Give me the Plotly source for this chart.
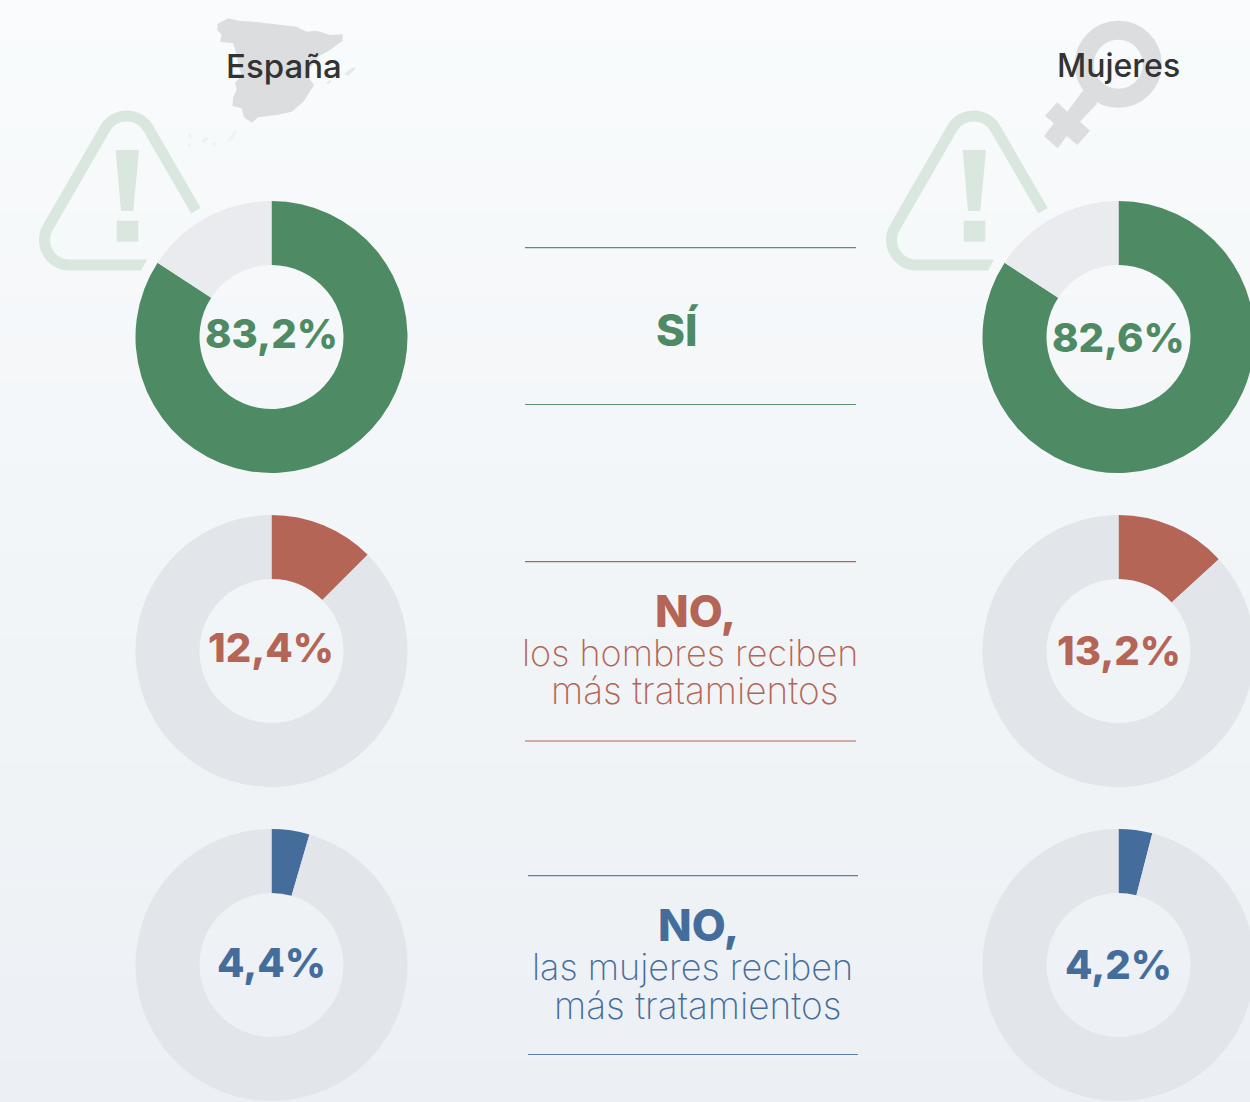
import plotly.graph_objects as go

W, H = 1256, 1102

# ---- data ----
column_titles = ["España", "Mujeres"]
row_colors = ["#4e8a63", "#b46556", "#456d9c"]
rest_colors = ["#e9ebef", "#e2e5ea", "#e2e5ea"]
espana_labels = ["83,2%", "12,4%", "4,4%"]
mujeres_labels = ["82,6%", "13,2%", "4,2%"]
espana_sectors = [84.2, 12.5, 4.5]
mujeres_sectors = [84.2, 13.2, 4.0]

FONT = "Inter, 'Open Sans', sans-serif"
CX = [271.5, 1118.5]
CY = [337, 651, 965]
R = 136


def X(p):
    return round(p / W, 5)


def Y(p):
    return round(1 - p / H, 5)


def path(cmds):
    out = []
    for c in cmds:
        if len(c) == 1:
            out.append(c[0])
        else:
            pts = " ".join(f"{X(c[i])},{Y(c[i + 1])}" for i in range(1, len(c), 2))
            out.append(f"{c[0]}{pts}")
    return " ".join(out)


shapes = []
# background gradient
bands = 26
top = (249, 251, 252)
bot = (236, 240, 244)
for i in range(bands):
    t = i / (bands - 1)
    col = "rgb(" + ",".join(str(round(a + (b - a) * t)) for a, b in zip(top, bot)) + ")"
    shapes.append(dict(type="rect", xref="paper", yref="paper", x0=0, x1=1,
                       y0=Y(H * (i + 1) / bands), y1=Y(H * i / bands),
                       fillcolor=col, line_width=0, layer="below"))


def zx(v, off):
    return off + v / 3


# Spain map (outline in zoom coordinates)
spain = [(592,72),(625,55),(655,62),(700,65),(760,72),(830,80),(860,95),(890,92),(930,105),(968,103),
         (968,122),(930,150),(895,170),(882,190),(870,205),(860,225),(882,255),(860,290),(850,305),
         (815,335),(770,345),(715,352),(695,368),(672,352),(665,325),(637,318),(640,290),(650,270),
         (645,250),(665,225),(655,195),(650,165),(640,130),(600,125),(605,105),(592,90)]
GREY = "#dcddDF"
cmds = [("M" if i == 0 else "L", zx(p[0], 20), p[1] / 3) for i, p in enumerate(spain)] + [("Z",)]
shapes.append(dict(type="path", xref="paper", yref="paper", path=path(cmds), fillcolor=GREY, line_width=0, layer="below"))
for blob in [[(972,222),(995,205),(1008,202),(1000,212),(985,228)],
             [(918,250),(930,240),(935,246),(925,252)]]:
    cmds = [("M" if i == 0 else "L", zx(p[0], 20), p[1] / 3) for i, p in enumerate(blob)] + [("Z",)]
    shapes.append(dict(type="path", xref="paper", yref="paper", path=path(cmds), fillcolor="#e6e7ea", line_width=0, layer="below"))
for blob in [[(618,428),(640,395),(652,388),(640,418)], [(576,430),(585,425),(590,435),(580,440)],
             [(545,420),(560,410),(565,418),(552,430)], [(505,402),(512,400),(515,412),(507,415)],
             [(500,435),(510,430),(512,440)]]:
    cmds = [("M" if i == 0 else "L", zx(p[0], 20), p[1] / 3) for i, p in enumerate(blob)] + [("Z",)]
    shapes.append(dict(type="path", xref="paper", yref="paper", path=path(cmds), fillcolor="#f0f1f4", line_width=0, layer="below"))

# Female symbol
fx, fy = 1118.3, 64.3
shapes.append(dict(type="circle", xref="paper", yref="paper", x0=X(fx - 34), x1=X(fx + 34),
                   y0=Y(fy + 34), y1=Y(fy - 34), fillcolor="rgba(0,0,0,0)",
                   line=dict(color=GREY, width=19), layer="below"))
stem = [(610,270),(652,310),(600,365),(630,392),(592,435),(560,408),(533,445),(492,408),(522,370),(495,347),(532,307),(562,335)]
cmds = [("M" if i == 0 else "L", zx(p[0], 880), p[1] / 3) for i, p in enumerate(stem)] + [("Z",)]
shapes.append(dict(type="path", xref="paper", yref="paper", path=path(cmds), fillcolor=GREY, line_width=0, layer="below"))

# Warning triangles (rounded corners as circular-like cubic curves)
TRI = "#d9e7de"
for dx in (0, 847):
    tri = [("M", 196 + dx, 210.7), ("L", 148.35 + dx, 128.5),
           ("C", 138.75 + dx, 111.9, 114.65 + dx, 111.9, 105.05 + dx, 128.5),
           ("L", 47.85 + dx, 227.5),
           ("C", 38.25 + dx, 244.1, 50.3 + dx, 265, 69.5 + dx, 265),
           ("L", 140 + dx, 265)]
    shapes.append(dict(type="path", xref="paper", yref="paper", path=path(tri), fillcolor="rgba(0,0,0,0)",
                       line=dict(color=TRI, width=11), layer="below"))
    tip = [("M", 139 + dx, 259.6), ("L", 147 + dx, 259.6), ("L", 141 + dx, 270.4), ("L", 139 + dx, 270.4), ("Z",)]
    shapes.append(dict(type="path", xref="paper", yref="paper", path=path(tip), fillcolor=TRI, line_width=0, layer="below"))
    ex = [("M", 115.7 + dx, 150), ("L", 139 + dx, 150), ("L", 133.3 + dx, 211), ("L", 121 + dx, 211), ("Z",)]
    shapes.append(dict(type="path", xref="paper", yref="paper", path=path(ex), fillcolor=TRI, line_width=0, layer="below"))
    shapes.append(dict(type="rect", xref="paper", yref="paper", x0=X(116.7 + dx), x1=X(138.3 + dx),
                       y0=Y(241.7), y1=Y(220.7), fillcolor=TRI, line_width=0, layer="below"))

# Rules around the central captions
for color, x0, x1, ys in [("#5c9270", 525, 856, (247.7, 404.5)),
                          ("#b46556", 525, 856, (561.7, 741)),
                          ("#5b81ab", 528, 858, (875.7, 1054.5))]:
    for y in ys:
        shapes.append(dict(type="line", xref="paper", yref="paper", x0=X(x0), x1=X(x1), y0=Y(y), y1=Y(y),
                           line=dict(color=color, width=1.2), layer="below"))

# Donuts
traces = []
for c, (sectors, cx) in enumerate(zip((espana_sectors, mujeres_sectors), CX)):
    for r, cy in enumerate(CY):
        traces.append(go.Pie(
            values=[sectors[r], 100 - sectors[r]],
            labels=["valor", "resto"],
            marker=dict(colors=[row_colors[r], rest_colors[r]], line=dict(width=0)),
            hole=72 / 136, sort=False, direction="clockwise", rotation=0,
            textinfo="none", hoverinfo="skip", showlegend=False,
            domain=dict(x=[(cx - R) / W, (cx + R) / W], y=[(H - cy - R) / H, (H - cy + R) / H]),
        ))

fig = go.Figure(traces)

ann = []


def text(x, y, s, size, color, weight=400):
    ann.append(dict(xref="paper", yref="paper", x=X(x), y=Y(y), text=s, showarrow=False,
                    xanchor="center", yanchor="middle",
                    font=dict(family=FONT, size=size, color=color, weight=weight)))


text(284.5, 66, column_titles[0], 33, "#333333", 500)
text(1118.5, 66, column_titles[1], 32, "#333333", 500)
label_y = [[333.5, 648, 962.5], [337.5, 651, 964.5]]
for r in range(3):
    text(CX[0], label_y[0][r], espana_labels[r], 40, row_colors[r], 800)
    text(CX[1], label_y[1][r], mujeres_labels[r], 40, row_colors[r], 800)

text(677.5, 330, "SÍ", 44, row_colors[0], 800)
text(695.5, 611, "NO,", 44, row_colors[1], 800)
text(690, 653, "los hombres reciben", 36, row_colors[1], 200)
text(695, 691, "más tratamientos", 37, row_colors[1], 200)
text(698.5, 925, "NO,", 44, row_colors[2], 800)
text(693, 967, "las mujeres reciben", 36, row_colors[2], 200)
text(698, 1005, "más tratamientos", 37, row_colors[2], 200)

fig.update_layout(width=W, height=H, margin=dict(l=0, r=0, t=0, b=0, autoexpand=False),
                  paper_bgcolor="#f4f6f9", plot_bgcolor="rgba(0,0,0,0)",
                  shapes=shapes, annotations=ann, showlegend=False)

fig.write_html("out.html", config=dict(displayModeBar=False),
               post_script="document.body.style.margin='0';document.documentElement.style.overflow='hidden';document.body.style.overflow='hidden';")
